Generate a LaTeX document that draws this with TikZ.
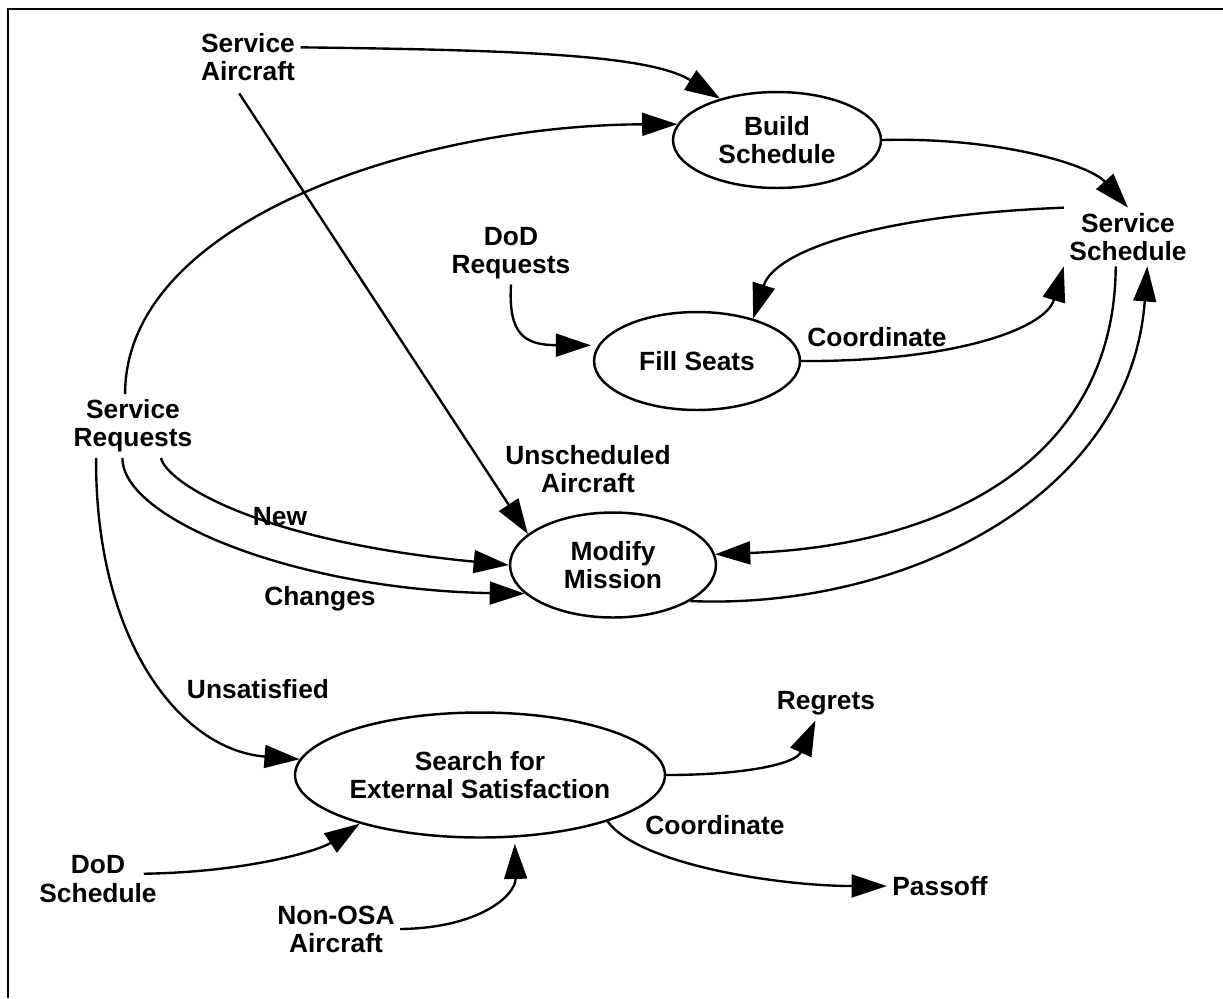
\documentclass[tikz,border=0pt]{standalone}
\usepackage{fontspec}
\setmainfont{Liberation Sans}
\usetikzlibrary{arrows.meta,shapes.geometric}
\begin{document}
\begin{tikzpicture}[x=0.02cm,y=-0.02cm,
  every node/.style={font=\fontsize{15}{16}\selectfont\bfseries, align=center, inner sep=3pt},
  proc/.style={draw, ellipse, line width=1.4pt, inner sep=0pt},
  arr/.style={line width=1.35pt, -{Triangle[length=20pt,width=13pt]}},
  frame/.style={line width=1.7pt}]
\useasboundingbox (0,0) rectangle (1223,998);
\draw[frame] (8,998) -- (8,9) -- (1223,9);

% nodes
\node (sa) at (248,57) {Service\\Aircraft};
\node[proc, minimum width=4.16cm, minimum height=1.92cm] (bs) at (777,140) {Build\\Schedule};
\node (ss) at (1128,237) {Service\\Schedule};
\node (dr) at (511,253) {DoD\\Requests};
\node[proc, minimum width=4.12cm, minimum height=1.96cm] (fs) at (697,361) {Fill Seats};
\node (sr) at (133,426) {Service\\Requests};
\node[proc, minimum width=4.12cm, minimum height=2.1cm] (mm) at (613,565) {Modify\\Mission};
\node[proc, minimum width=7.4cm, minimum height=2.5cm] (se) at (480,775) {Search for\\External Satisfaction};
\node (rg) at (826,703) {Regrets};
\node (po) at (940,886) {Passoff};
\node (ds) at (98,879) {DoD\\Schedule};
\node (no) at (336,929) {Non-OSA\\Aircraft};

% labels
\node (lcoord1) at (877,337) {Coordinate};
\node (lunsch) at (588,469) {Unscheduled\\Aircraft};
\node (lnew) at (280,517) {New};
\node (lchg) at (320,599) {Changes};
\node (lunsat) at (258,689) {Unsatisfied};
\node (lcoord2) at (715,825) {Coordinate};

% connectors
\draw[arr] ([yshift=5.5pt]sa.east) .. controls (520,50) and (650,55) .. (bs.144);
\draw[arr] ([xshift=-5pt,yshift=-4pt]sa.south) -- (mm.160);
\draw[arr] ([xshift=-4.5pt]sr.north) .. controls (125,220) and (420,125) .. (bs.171);
\draw[arr] (bs.east) .. controls (1000,137) and (1090,165) .. (ss.north);
\draw[arr] (ss.north west) .. controls (880,215) and (775,250) .. (fs.37);
\draw[arr, shorten >=4pt] (dr.south) .. controls (508,335) and (525,345) .. (fs.171);
\draw[arr] (fs.east) .. controls (950,362) and (1045,330) .. (ss.south west);
\draw[arr] ([xshift=-7pt]ss.south) .. controls (1115,450) and (960,545) .. (mm.6);
\draw[arr] (mm.335) .. controls (900,610) and (1130,500) .. ([xshift=11pt]ss.south);
\draw[arr] ([xshift=16pt]sr.south) .. controls (165,480) and (250,540) .. (mm.west);
\draw[arr] ([xshift=-6pt]sr.south) .. controls (122,520) and (300,590) .. (mm.198);
\draw[arr] ([xshift=-21pt]sr.south) .. controls (95,640) and (180,750) .. (se.175);
\draw[arr] ([xshift=-10.5pt,yshift=3pt]ds.east) .. controls (250,872) and (320,850) .. (se.202);
\draw[arr, shorten >=3.5pt] (no.east) .. controls (480,928) and (516,895) .. (se.299);
\draw[arr] (se.east) .. controls (740,775) and (795,765) .. ([xshift=-6pt]rg.south);
\draw[arr] (se.340) .. controls (640,865) and (780,886) .. (po.west);
\end{tikzpicture}
\end{document}
